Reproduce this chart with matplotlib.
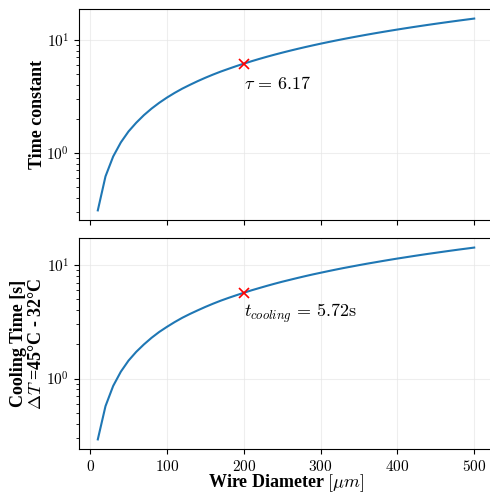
import matplotlib
matplotlib.use('Agg')
import matplotlib.pyplot as plt

# wire diameter in micrometres
diameter = [10, 20, 30, 40, 50, 60, 70, 80, 90, 100,
            110, 120, 130, 140, 150, 160, 170, 180, 190, 200,
            210, 220, 230, 240, 250, 260, 270, 280, 290, 300,
            310, 320, 330, 340, 350, 360, 370, 380, 390, 400,
            410, 420, 430, 440, 450, 460, 470, 480, 490, 500]

# time constant
tau = [0.31, 0.62, 0.93, 1.24, 1.55, 1.85, 2.16, 2.47, 2.78, 3.09,
       3.40, 3.71, 4.01, 4.32, 4.63, 4.94, 5.25, 5.55, 5.86, 6.17,
       6.48, 6.79, 7.10, 7.41, 7.72, 8.03, 8.34, 8.65, 8.96, 9.27,
       9.58, 9.89, 10.20, 10.51, 10.82, 11.13, 11.44, 11.75, 12.06, 12.37,
       12.68, 12.99, 13.30, 13.61, 13.92, 14.23, 14.54, 14.85, 15.16, 15.47]

# cooling time 45C -> 32C
cooling = [0.29, 0.57, 0.86, 1.15, 1.44, 1.72, 2.00, 2.29, 2.58, 2.86,
           3.15, 3.44, 3.72, 4.00, 4.29, 4.58, 4.87, 5.15, 5.43, 5.72,
           6.01, 6.29, 6.58, 6.87, 7.16, 7.44, 7.73, 8.02, 8.31, 8.59,
           8.88, 9.17, 9.46, 9.74, 10.03, 10.32, 10.60, 10.89, 11.18, 11.47,
           11.75, 12.04, 12.33, 12.62, 12.90, 13.19, 13.48, 13.77, 14.05, 14.34]

mark_d = 200
mark_tau = 6.17
mark_cool = 5.72

plt.rcParams['font.family'] = ['cmr10', 'DejaVu Serif']
plt.rcParams['mathtext.fontset'] = 'cm'
plt.rcParams['axes.formatter.use_mathtext'] = True
plt.rcParams['font.size'] = 11

label_font = dict(family='Liberation Serif', weight='bold', size=13)

fig = plt.figure(figsize=(4.9, 4.96), dpi=100)
ax1 = fig.add_axes([0.1612, 0.5565, 0.845, 0.4254])
ax2 = fig.add_axes([0.1612, 0.0948, 0.845, 0.4254], sharex=ax1)

ax1.plot(diameter, tau, color='tab:blue', lw=1.5)
ax1.plot(mark_d, mark_tau, 'x', color='red', ms=7, mew=1.2)
ax1.text(mark_d, 4.1, r'$\tau\,=\,6.17$', fontsize=13, va='center', ha='left')
ax1.set_yscale('log')
ax1.set_ylabel('Time constant', **label_font)
ax1.yaxis.set_label_coords(-0.08, 0.5)
ax1.grid(True, color='#e4e4e4', alpha=0.6, lw=0.8)
ax1.tick_params(labelbottom=False)

ax2.plot(diameter, cooling, color='tab:blue', lw=1.5)
ax2.plot(mark_d, mark_cool, 'x', color='red', ms=7, mew=1.2)
ax2.text(mark_d, 3.78, r'$t_{cooling}\,=\,5.72$s', fontsize=13, va='center', ha='left')
ax2.set_yscale('log')
ax2.set_ylabel('Cooling Time [s]\n$\\Delta T$ =45°C - 32°C', linespacing=1.1,
               **label_font)
ax2.yaxis.set_label_coords(-0.082, 0.5)
ax2.set_xlabel(r'Wire Diameter $[\mu m]$', **label_font)
ax2.xaxis.set_label_coords(0.5, -0.11)
ax2.grid(True, color='#e4e4e4', alpha=0.6, lw=0.8)

fig.savefig('out.png', dpi=100)
